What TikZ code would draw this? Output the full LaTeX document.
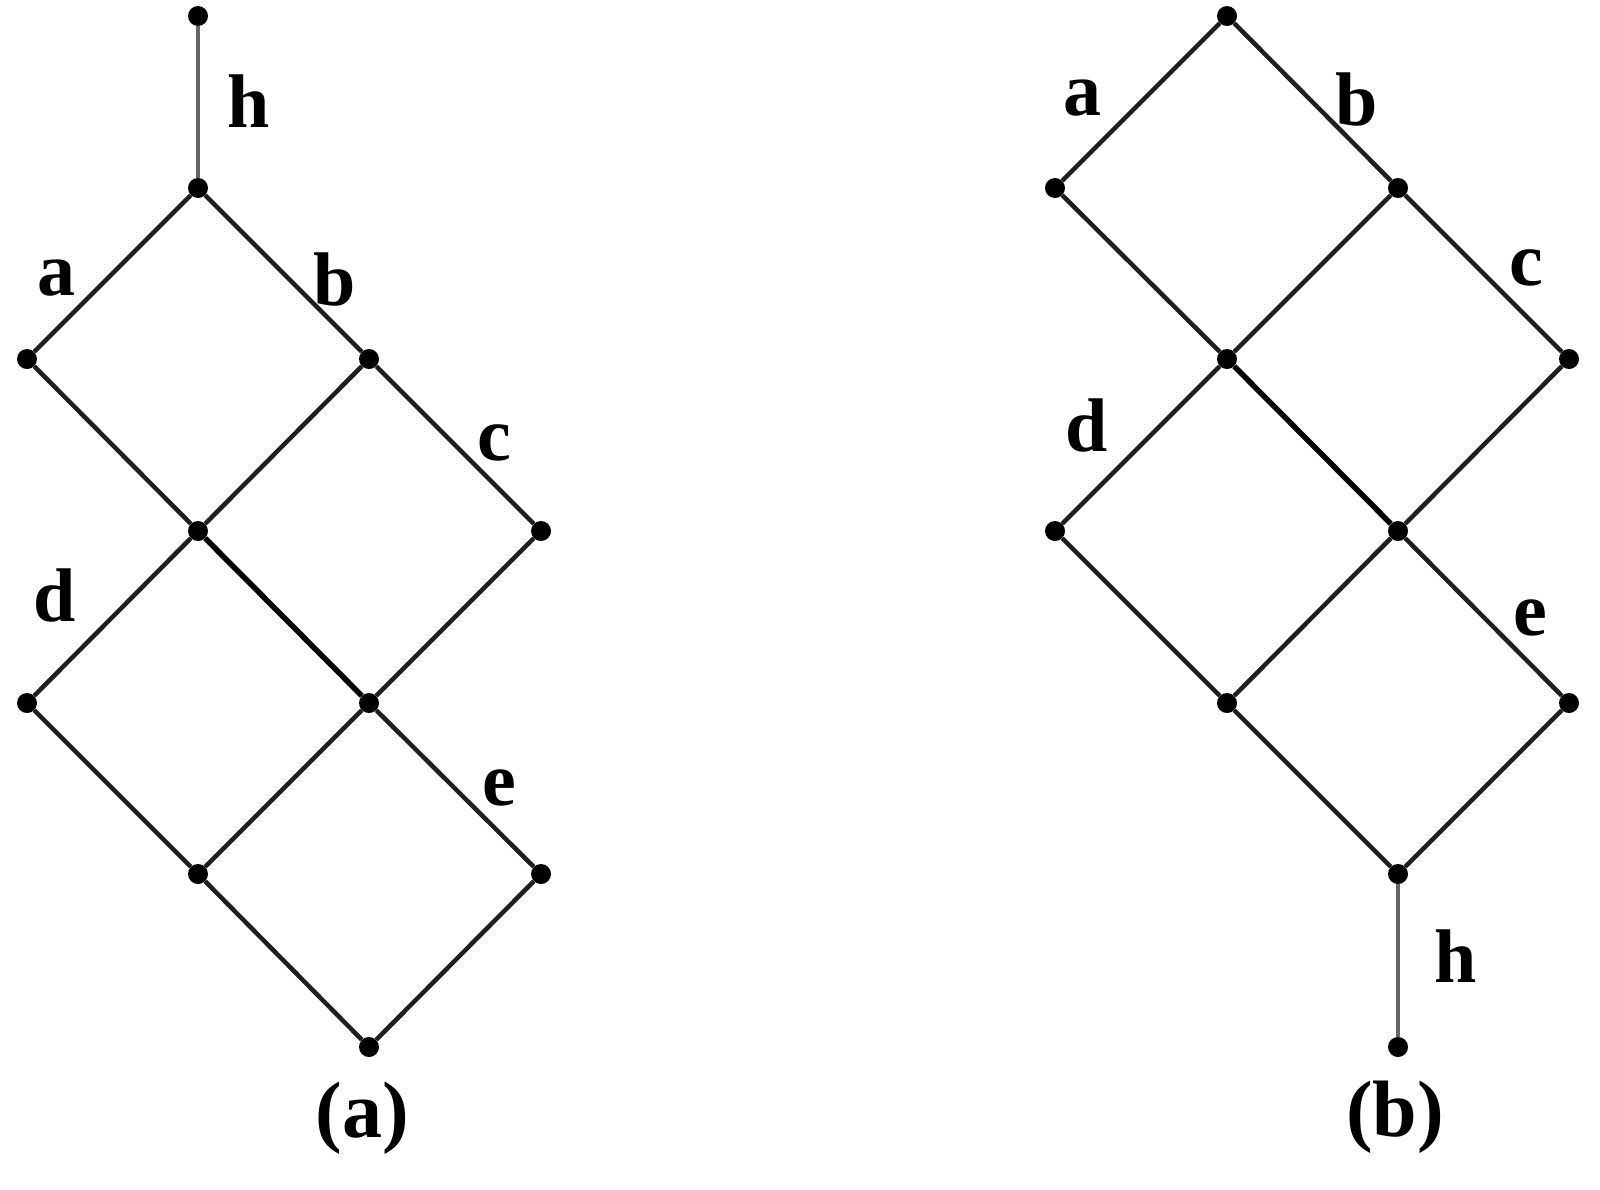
\documentclass[tikz,border=0pt]{standalone}
\usepackage{fontspec}
\setmainfont{Liberation Serif}
\begin{document}
\begin{tikzpicture}[x=1pt,y=-1pt,
  vdot/.style={circle,fill=black,inner sep=0pt,minimum size=20pt},
  lnk/.style={line width=4.5pt,draw=black!88},
  stemlnk/.style={line width=4pt,draw=black!60},
  midlnk/.style={line width=5.5pt,draw=black},
  lbl/.style={inner sep=0pt,font=\fontsize{76}{80}\selectfont\bfseries},
  subcap/.style={inner sep=0pt,font=\fontsize{80}{84}\selectfont\bfseries}]
\useasboundingbox[fill=white] (0,0) rectangle (1600,1189);
% ---- (a) ----
\node[vdot] (A0) at (198,16) {};
\node[vdot] (A1) at (198,188) {};
\node[vdot] (A2) at (27,359) {};
\node[vdot] (A3) at (369,359) {};
\node[vdot] (A4) at (198,531) {};
\node[vdot] (A5) at (541,531) {};
\node[vdot] (A6) at (27,703) {};
\node[vdot] (A7) at (369,703) {};
\node[vdot] (A8) at (198,874) {};
\node[vdot] (A9) at (541,874) {};
\node[vdot] (A10) at (369,1047) {};
\draw[stemlnk] (A0) -- (A1);
\draw[lnk] (A1) -- (A2);
\draw[lnk] (A1) -- (A3);
\draw[lnk] (A2) -- (A4);
\draw[lnk] (A3) -- (A4);
\draw[lnk] (A3) -- (A5);
\draw[lnk] (A4) -- (A6);
\draw[midlnk] (A4) -- (A7);
\draw[lnk] (A5) -- (A7);
\draw[lnk] (A6) -- (A8);
\draw[lnk] (A7) -- (A8);
\draw[lnk] (A7) -- (A9);
\draw[lnk] (A8) -- (A10);
\draw[lnk] (A9) -- (A10);
\node[lbl] (Ah) at (249,101) {h};
\node[lbl] (Aa) at (56,278) {a};
\node[lbl] (Ab) at (335,279) {b};
\node[lbl] (Ac) at (494,443) {c};
\node[lbl] (Ad) at (55,595) {d};
\node[lbl] (Ae) at (499,788) {e};
\node[subcap] (Acap) at (362,1118) {(a)};
% ---- (b) ----
\node[vdot] (B0) at (1227,16) {};
\node[vdot] (B1) at (1055,188) {};
\node[vdot] (B2) at (1398,188) {};
\node[vdot] (B3) at (1227,359) {};
\node[vdot] (B4) at (1569,359) {};
\node[vdot] (B5) at (1055,531) {};
\node[vdot] (B6) at (1398,531) {};
\node[vdot] (B7) at (1227,703) {};
\node[vdot] (B8) at (1569,703) {};
\node[vdot] (B9) at (1398,874) {};
\node[vdot] (B10) at (1398,1047) {};
\draw[lnk] (B0) -- (B1);
\draw[lnk] (B0) -- (B2);
\draw[lnk] (B1) -- (B3);
\draw[lnk] (B2) -- (B3);
\draw[lnk] (B2) -- (B4);
\draw[lnk] (B3) -- (B5);
\draw[midlnk] (B3) -- (B6);
\draw[lnk] (B4) -- (B6);
\draw[lnk] (B5) -- (B7);
\draw[lnk] (B6) -- (B7);
\draw[lnk] (B6) -- (B8);
\draw[lnk] (B7) -- (B9);
\draw[lnk] (B8) -- (B9);
\draw[stemlnk] (B9) -- (B10);
\node[lbl] (Ba) at (1082,98) {a};
\node[lbl] (Bb) at (1357,100) {b};
\node[lbl] (Bc) at (1526,268) {c};
\node[lbl] (Bd) at (1087,425) {d};
\node[lbl] (Be) at (1530,618) {e};
\node[lbl] (Bh) at (1456,956) {h};
\node[subcap] (Bcap) at (1395,1117) {(b)};
\end{tikzpicture}
\end{document}
